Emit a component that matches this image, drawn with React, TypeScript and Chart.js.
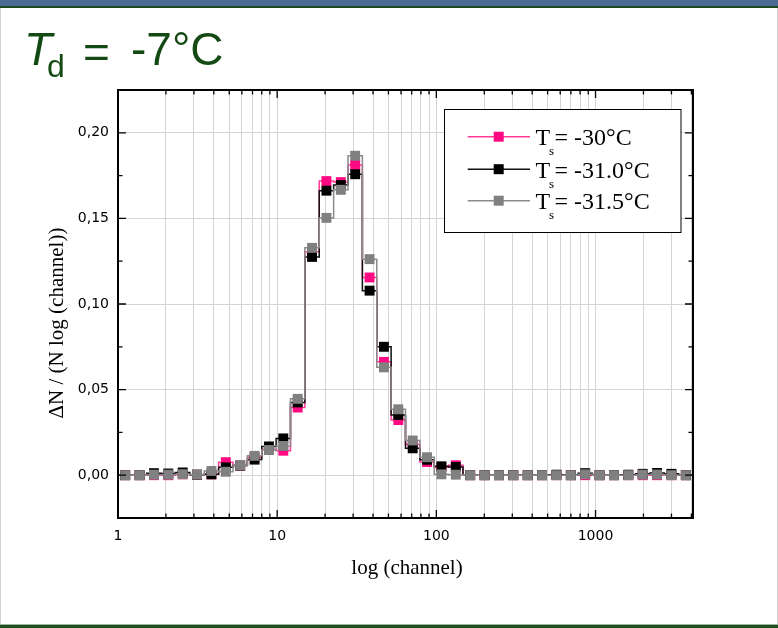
import React, { useEffect, useRef } from "react";
import { Chart, registerables } from "chart.js";

Chart.register(...registerables);

// Bin centres (channel), 40 logarithmic bins between 1 and 4096
const channels = [
  1.11, 1.366, 1.682, 2.07, 2.549, 3.138, 3.864, 4.757, 5.856, 7.21,
  8.877, 10.93, 13.45, 16.56, 20.39, 25.11, 30.91, 38.06, 46.85, 57.68,
  71.01, 87.43, 107.6, 132.5, 163.1, 200.9, 247.3, 304.4, 374.8, 461.4,
  568.1, 699.4, 861.1, 1060, 1305, 1607, 1978, 2436, 2999, 3692,
];
const channelMin = 1;
const channelMax = 4096;

const ts30 = [
  0, 0, 0, 0, 0.0005, 0.0003, 0.0005, 0.0076, 0.0056, 0.0105,
  0.0152, 0.0143, 0.0395, 0.1305, 0.1718, 0.1712, 0.1812, 0.1155, 0.0662, 0.0322,
  0.018, 0.0077, 0.0046, 0.0058, 0, 0, 0, 0, 0, 0,
  0, 0, 0, 0, 0, 0, 0, 0, 0, 0,
];
const ts310 = [
  0, 0, 0.0012, 0.001, 0.0016, 0.0003, 0.0005, 0.0046, 0.0056, 0.0091,
  0.0168, 0.0215, 0.0425, 0.1275, 0.1662, 0.1695, 0.1758, 0.1078, 0.075, 0.0352,
  0.0157, 0.009, 0.0052, 0.0048, 0, 0, 0, 0, 0, 0,
  0.0003, 0, 0.0012, 0, 0, 0.0003, 0.0008, 0.0013, 0.0008, 0,
];
const ts315 = [
  0, 0, 0.0003, 0.0003, 0.0006, 0.0004, 0.0025, 0.002, 0.0058, 0.0113,
  0.0147, 0.0171, 0.0446, 0.1328, 0.1503, 0.1667, 0.1866, 0.1262, 0.063, 0.0385,
  0.0203, 0.0105, 0.0005, 0.0003, 0, 0, 0, 0, 0, 0,
  0, 0, 0.0005, 0, 0, 0, 0.0003, 0.0004, 0, 0,
];

const seriesLabels = ["= -30°C", "= -31.0°C", "= -31.5°C"];
const seriesColors = ["#ff0a82", "#000000", "#808080"];
const lineColors = ["#ff3a96", "#111111", "#8a8a8a"];

const xTickValues = [
  1, 2, 3, 4, 5, 6, 7, 8, 9,
  10, 20, 30, 40, 50, 60, 70, 80, 90,
  100, 200, 300, 400, 500, 600, 700, 800, 900,
  1000, 2000, 3000, 4000,
];
const xLabelValues = [1, 10, 100, 1000];
const yMin = -0.025;
const yMax = 0.225;
const yTickValues = [0, 0.05, 0.1, 0.15, 0.2];
const yMinorValues = [0.025, 0.075, 0.125, 0.175];

const xTitle = "log (channel)";
const yTitle = "ΔN / (N log (channel))";

function buildData(values: number[]) {
  const pts = [{ x: channelMin, y: values[0] }];
  channels.forEach((c, i) => pts.push({ x: c, y: values[i] }));
  pts.push({ x: channelMax, y: values[values.length - 1] });
  return pts;
}

const decor = {
  id: "decor",
  beforeDraw(chart: any) {
    const { ctx, width, height } = chart;
    ctx.save();
    ctx.fillStyle = "#ffffff";
    ctx.fillRect(0, 0, width, height);
    ctx.fillStyle = "#4b6b93";
    ctx.fillRect(0, 0, width, 6);
    ctx.fillStyle = "#1d4a1d";
    ctx.fillRect(0, 6, width, 2);
    ctx.fillStyle = "#9db59d";
    ctx.fillRect(0, 624, width, 1);
    ctx.fillStyle = "#1e4d1e";
    ctx.fillRect(0, 625, width, 3);
    ctx.fillStyle = "#d0d0d0";
    ctx.fillRect(0, 8, 1, 616);
    ctx.fillRect(width - 1, 8, 1, 616);
    ctx.restore();
  },
  afterDraw(chart: any) {
    const { ctx, chartArea } = chart;
    const { left, right, top, bottom } = chartArea;
    const xs = chart.scales.x;
    const ys = chart.scales.y;
    ctx.save();
    // frame
    ctx.strokeStyle = "#000";
    ctx.lineWidth = 2;
    ctx.strokeRect(left, top, right - left, bottom - top);
    // ticks (inward, mirrored)
    ctx.lineWidth = 1.3;
    ctx.beginPath();
    xTickValues.forEach((v) => {
      const px = xs.getPixelForValue(v);
      const len = xLabelValues.includes(v) ? 8 : 4.5;
      ctx.moveTo(px, bottom);
      ctx.lineTo(px, bottom - len);
      ctx.moveTo(px, top);
      ctx.lineTo(px, top + len);
    });
    const yAll = yTickValues.map((v) => [v, 8]).concat(yMinorValues.map((v) => [v, 4.5]));
    yAll.forEach(([v, len]) => {
      const py = ys.getPixelForValue(v);
      ctx.moveTo(left, py);
      ctx.lineTo(left + len, py);
      ctx.moveTo(right, py);
      ctx.lineTo(right - len, py);
    });
    ctx.stroke();

    // legend
    const bx = 444.5, by = 109.5, bw = 236.5, bh = 123;
    ctx.fillStyle = "#fff";
    ctx.fillRect(bx, by, bw, bh);
    ctx.strokeStyle = "#000";
    ctx.lineWidth = 1;
    ctx.strokeRect(bx, by, bw, bh);
    const rows = [136.7, 169.2, 200.7];
    rows.forEach((ry, i) => {
      ctx.strokeStyle = lineColors[i];
      ctx.lineWidth = 1.5;
      ctx.beginPath();
      ctx.moveTo(467.7, ry);
      ctx.lineTo(530, ry);
      ctx.stroke();
      ctx.fillStyle = seriesColors[i];
      ctx.fillRect(498.7 - 5, ry - 5, 10, 10);
      ctx.fillStyle = "#000";
      ctx.textAlign = "left";
      ctx.textBaseline = "alphabetic";
      ctx.font = '24px "Liberation Serif"';
      ctx.fillText("T", 535.5, ry + 8.5);
      ctx.font = '13px "Liberation Serif"';
      ctx.fillText("s", 549, ry + 18.5);
      ctx.font = '24px "Liberation Serif"';
      ctx.fillText(seriesLabels[i], 554.5, ry + 8.5);
    });

    // axis titles
    ctx.fillStyle = "#000";
    ctx.font = '21px "Liberation Serif"';
    ctx.textAlign = "center";
    ctx.textBaseline = "middle";
    ctx.fillText(xTitle, (left + right) / 2 + 1.5, 568);
    ctx.save();
    ctx.translate(57.5, 323);
    ctx.rotate(-Math.PI / 2);
    ctx.fillText(yTitle, 0, 0);
    ctx.restore();

    // page title
    ctx.fillStyle = "#134a13";
    ctx.textAlign = "left";
    ctx.textBaseline = "alphabetic";
    ctx.font = 'italic 46px "Liberation Sans"';
    ctx.fillText("T", 24, 65);
    ctx.font = '32px "Liberation Sans"';
    ctx.fillText("d", 47, 77);
    ctx.font = '46px "Liberation Sans"';
    ctx.fillText("=", 83, 68);
    ctx.fillText("-7°C", 131, 65);
    ctx.restore();
  },
};

export default function App() {
  const ref = useRef<HTMLCanvasElement | null>(null);
  useEffect(() => {
    if (!ref.current) return;
    const all = [ts30, ts310, ts315];
    const chart = new Chart(ref.current, {
      type: "line",
      data: {
        datasets: all.map((vals, i) => ({
          label: "T_s " + seriesLabels[i],
          data: buildData(vals),
          stepped: "middle" as const,
          borderColor: lineColors[i],
          borderWidth: 1.5,
          backgroundColor: seriesColors[i],
          pointBackgroundColor: seriesColors[i],
          pointBorderColor: seriesColors[i],
          pointBorderWidth: 0,
          pointStyle: "rect" as const,
          pointRadius: (c: any) =>
            c.dataIndex === 0 || c.dataIndex === channels.length + 1 ? 0 : 7,
          order: 2 - i,
          fill: false,
        })),
      },
      options: {
        responsive: false,
        animation: false,
        events: [],
        layout: { padding: { left: 0, top: 90, right: 85, bottom: 0 } },
        plugins: {
          legend: { display: false },
          tooltip: { enabled: false },
          title: { display: false },
        },
        scales: {
          x: {
            type: "logarithmic",
            min: channelMin,
            max: channelMax,
            afterBuildTicks: (s: any) => {
              s.ticks = xTickValues.map((v) => ({ value: v }));
            },
            afterFit: (s: any) => {
              s.height = 110;
            },
            ticks: {
              autoSkip: false,
              maxRotation: 0,
              minRotation: 0,
              padding: 10,
              color: "#000",
              font: { family: "DejaVu Sans", size: 14 },
              callback: (v: any) => (xLabelValues.includes(Number(v)) ? String(v) : ""),
            },
            grid: { color: "#d4d4d4", lineWidth: 1, drawTicks: false },
            border: { display: false },
          },
          y: {
            type: "linear",
            min: yMin,
            max: yMax,
            afterBuildTicks: (s: any) => {
              s.ticks = yTickValues.map((v) => ({ value: v }));
            },
            afterFit: (s: any) => {
              s.width = 118;
            },
            ticks: {
              padding: 9,
              color: "#000",
              font: { family: "DejaVu Sans", size: 14 },
              callback: (v: any) => Number(v).toFixed(2).replace(".", ","),
            },
            grid: { color: "#d4d4d4", lineWidth: 1, drawTicks: false },
            border: { display: false },
          },
        },
      },
      plugins: [decor],
    });
    return () => chart.destroy();
  }, []);
  return (
    <div style={{ position: "absolute", left: 0, top: 0, width: 778, height: 628 }}>
      <canvas ref={ref} width={778} height={628} style={{ display: "block" }} />
    </div>
  );
}
